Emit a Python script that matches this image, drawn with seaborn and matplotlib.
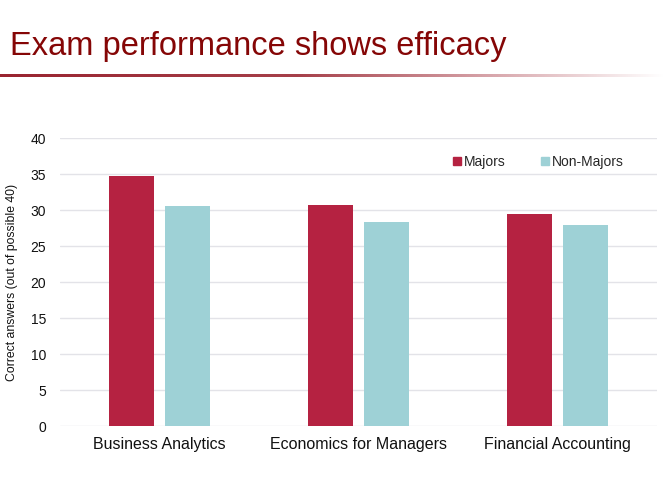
import matplotlib
matplotlib.use("Agg")
import matplotlib.pyplot as plt
import seaborn as sns
import numpy as np
import pandas as pd
from matplotlib.lines import Line2D
from matplotlib.colors import LinearSegmentedColormap

categories = ["Business Analytics", "Economics for Managers", "Financial Accounting"]
groups = ["Majors", "Non-Majors"]
majors = [34.7, 30.7, 29.4]
non_majors = [30.5, 28.4, 27.9]
yticks = [0, 5, 10, 15, 20, 25, 30, 35, 40]

df = pd.DataFrame({
    "course": categories * 2,
    "group": [groups[0]] * 3 + [groups[1]] * 3,
    "score": majors + non_majors,
})

sns.set_theme(style="white")
plt.rcParams["font.family"] = ["Liberation Sans", "DejaVu Sans"]

W, H = 664, 479
fig = plt.figure(figsize=(W / 100, H / 100), dpi=100)
ax = fig.add_axes([60 / W, (H - 426) / H, 597 / W, 288 / H])

palette = {"Majors": "#B52241", "Non-Majors": "#9ED1D6"}
sns.barplot(data=df, x="course", y="score", hue="group", palette=palette,
            width=0.57, gap=0.21, saturation=1, ax=ax, legend=False, zorder=3,
            linewidth=0)

ax.set_xlim(-0.5, 2.5)
ax.set_ylim(0, 40)
ax.set_yticks(yticks)
ax.yaxis.grid(True, color="#E3E3E8", lw=1, zorder=0)
ax.set_axisbelow(True)
for s in ax.spines.values():
    s.set_visible(False)
ax.tick_params(axis="y", labelsize=10, pad=10, length=0, colors="#111111")
ax.tick_params(axis="x", labelsize=11.5, pad=8, length=0, colors="#111111")
ax.set_xlabel("")
ax.set_ylabel("Correct answers (out of possible 40)", fontsize=8.8, color="#111111", labelpad=9)

handles = [Line2D([], [], marker="s", ls="", color=palette[g], markersize=6) for g in groups]
ax.legend(handles, groups, ncol=2, frameon=False, loc="upper right",
          bbox_to_anchor=(0.965, 0.985), fontsize=10, handletextpad=0.1,
          columnspacing=2.4, handlelength=0.8)

fig.text(10 / W, 1 - 46 / H, "Exam performance shows efficacy", color="#850606",
         fontsize=23.5, va="center", ha="left")

# gradient rule under title
lax = fig.add_axes([0, 1 - 77 / H, 1, 3 / H])
grad = np.linspace(0, 1, 256)
cmap = LinearSegmentedColormap.from_list(
    "fade", [(0, "#992430"), (0.45, "#A6404A"), (0.75, "#D9A9AE"), (1.0, "#FFFFFF")])
lax.imshow(grad[None, :], aspect="auto", cmap=cmap)
lax.set_axis_off()

fig.savefig("out.png", dpi=100)
